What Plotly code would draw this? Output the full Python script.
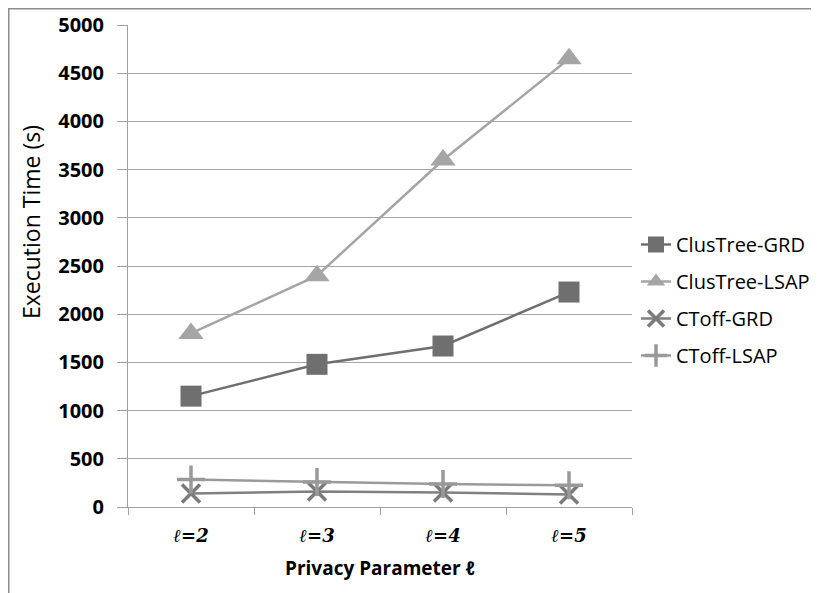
import plotly.graph_objects as go

categories = ["ℓ=2", "ℓ=3", "ℓ=4", "ℓ=5"]
clustree_grd = [1150, 1480, 1670, 2230]
clustree_lsap = [1800, 2400, 3600, 4650]
ctoff_grd = [140, 160, 150, 130]
ctoff_lsap = [285, 260, 238, 225]
y_ticks = [0, 500, 1000, 1500, 2000, 2500, 3000, 3500, 4000, 4500, 5000]

series = [
    ("ClusTree-GRD", clustree_grd, "square", "#6f6f6f", "#6f6f6f", 21),
    ("ClusTree-LSAP", clustree_lsap, "triangle-up", "#a5a5a5", "#a5a5a5", 22),
    ("CToff-GRD", ctoff_grd, "x-thin", "#7a7a7a", "#808080", 18),
    ("CToff-LSAP", ctoff_lsap, "cross-thin", "#999999", "#9a9a9a", 20),
]

fig = go.Figure()
for i, (name, vals, sym, mcol, lcol, size) in enumerate(series):
    thin = sym.endswith("thin")
    fig.add_trace(go.Scatter(
        x=categories, y=vals, name=name, mode="lines+markers",
        legendgroup=f"g{i}",
        line=dict(color=lcol, width=2.5),
        marker=dict(symbol=sym, size=size, color=mcol,
                    line=dict(color=mcol, width=3.5 if thin else 0)),
    ))

font_main = "Open Sans, Liberation Sans, sans-serif"

# page body adds an 8px offset; figure is sized to fit the window
W, H = 811, 585
ML, MR, MT, MB = 120, 187, 17, 86
PW = W - ML - MR
PH = H - MT - MB


def px_x(page_x):
    return (page_x - 8 - ML) / PW


def px_y(page_y):
    return (PH + MT - (page_y - 8)) / PH


fig.update_layout(
    width=W, height=H,
    margin=dict(l=ML, r=MR, t=MT, b=MB, autoexpand=False),
    paper_bgcolor="white", plot_bgcolor="white",
    font=dict(family=font_main, color="#000000"),
    showlegend=True,
    legend=dict(xref="container", yref="container",
                x=(636 - 8) / W, y=1 - (300 - 8) / H,
                xanchor="left", yanchor="middle",
                font=dict(size=20, family=font_main, color="#000000"),
                tracegroupgap=8, itemwidth=30, bgcolor="rgba(0,0,0,0)"),
    xaxis=dict(
        type="category", range=[-0.5, 3.5], showgrid=False, automargin=False,
        showline=True, linecolor="#a0a0a0", linewidth=1,
        tickson="boundaries", ticks="outside", ticklen=7, tickcolor="#a0a0a0",
        ticklabelstandoff=12,
        tickfont=dict(family="DejaVu Serif", size=18, color="#000000",
                      weight="bold", style="italic"),
        zeroline=False,
    ),
    yaxis=dict(
        range=[0, 5000], tickvals=y_ticks, automargin=False,
        showgrid=True, gridcolor="#a6a6a6", gridwidth=1,
        showline=True, linecolor="#a0a0a0", linewidth=1,
        ticks="outside", ticklen=10, tickcolor="#a0a0a0",
        ticklabelstandoff=9,
        tickfont=dict(size=20, family=font_main, color="#000000", weight="bold"),
        zeroline=False,
    ),
    annotations=[
        dict(text="Execution Time (s)", textangle=-90, showarrow=False,
             xref="paper", yref="paper", x=px_x(31), y=px_y(222),
             xanchor="center", yanchor="middle",
             font=dict(size=23, family=font_main, color="#000000")),
        dict(text="<b>Privacy Parameter <i>ℓ</i></b>", showarrow=False,
             xref="paper", yref="paper", x=px_x(380), y=px_y(568),
             xanchor="center", yanchor="middle",
             font=dict(size=19, family=font_main, color="#000000")),
    ],
    shapes=[dict(type="rect", xref="paper", yref="paper",
                 x0=(0.75 - ML) / PW, x1=1.6, y0=-0.5, y1=(PH + MT - 0.75) / PH,
                 line=dict(color="#8c8c8c", width=1.5), fillcolor="rgba(0,0,0,0)",
                 layer="below")],
)

fig.write_html("out.html")
